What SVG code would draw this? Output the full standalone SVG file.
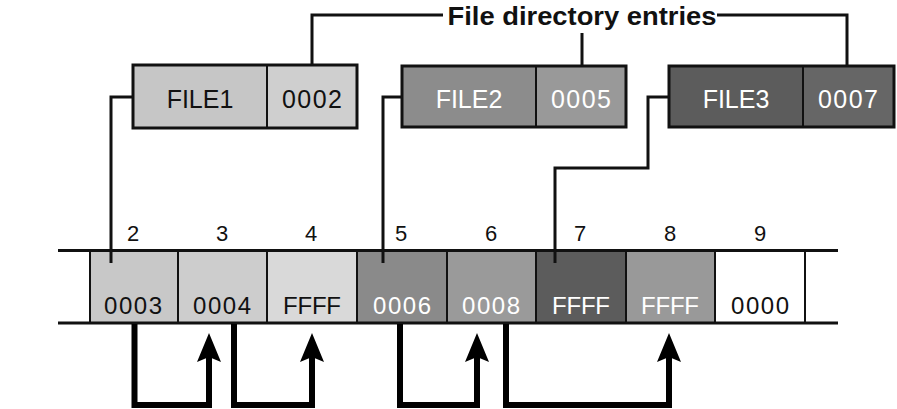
<svg xmlns="http://www.w3.org/2000/svg" width="897" height="409" viewBox="0 0 897 409">
<defs>
<style>
.t{font-family:"Liberation Sans",Arial,sans-serif;}
.title{font-weight:bold;font-size:26px;fill:#111;}
.ft{font-size:25px;text-anchor:middle;}
.ct{font-size:24px;text-anchor:middle;}
.num{font-size:22px;text-anchor:middle;fill:#111;}
.dk{fill:#111;}
.wh{fill:#fff;}
.box{stroke:#111;stroke-width:3;}
.div{stroke:#111;stroke-width:2;}
.thin{fill:none;stroke:#111;stroke-width:3;}
.thick{fill:none;stroke:#000;stroke-width:6;}
.head{fill:#000;}
</style>
</defs>
<rect width="897" height="409" fill="#fff"/>
<text class="t title" x="582" y="25" text-anchor="middle" textLength="269" lengthAdjust="spacingAndGlyphs">File directory entries</text>

<g id="file1">
<rect x="133" y="65" width="134" height="63" fill="#c6c6c6"/>
<rect x="267" y="65" width="90" height="63" fill="#cfcfcf"/>
<rect class="box" x="133" y="65" width="224" height="63" fill="none"/>
<line class="div" x1="267" y1="65" x2="267" y2="128"/>
<text class="t ft dk" x="200" y="108">FILE1</text>
<text class="t ft dk" x="312" y="108" textLength="60">0002</text>
</g>
<g id="file2">
<rect x="402" y="66" width="134" height="61" fill="#8c8c8c"/>
<rect x="536" y="66" width="90" height="61" fill="#999"/>
<rect class="box" x="402" y="66" width="224" height="61" fill="none"/>
<line class="div" x1="536" y1="66" x2="536" y2="127"/>
<text class="t ft wh" x="469" y="108">FILE2</text>
<text class="t ft wh" x="581" y="108" textLength="60">0005</text>
</g>
<g id="file3">
<rect x="669" y="66" width="134" height="61" fill="#5c5c5c"/>
<rect x="803" y="66" width="91" height="61" fill="#666"/>
<rect class="box" x="669" y="66" width="225" height="61" fill="none"/>
<line class="div" x1="803" y1="66" x2="803" y2="127"/>
<text class="t ft wh" x="736" y="108">FILE3</text>
<text class="t ft wh" x="848" y="108" textLength="60">0007</text>
</g>

<g id="fat">
<rect x="89" y="252" width="89" height="70" fill="#c8c8c8"/>
<rect x="178" y="252" width="89" height="70" fill="#cdcdcd"/>
<rect x="267" y="252" width="90" height="70" fill="#d9d9d9"/>
<rect x="357" y="252" width="90" height="70" fill="#8a8a8a"/>
<rect x="447" y="252" width="89" height="70" fill="#9a9a9a"/>
<rect x="536" y="252" width="90" height="70" fill="#5c5c5c"/>
<rect x="626" y="252" width="89" height="70" fill="#999"/>
<rect x="715" y="252" width="90" height="70" fill="#fff"/>
<line x1="58" y1="250.5" x2="838" y2="250.5" stroke="#111" stroke-width="3"/>
<line x1="58" y1="323" x2="838" y2="323" stroke="#111" stroke-width="3"/>
<g class="div">
<line x1="90" y1="250" x2="90" y2="323"/>
<line x1="178" y1="250" x2="178" y2="323"/>
<line x1="267" y1="250" x2="267" y2="323"/>
<line x1="357" y1="250" x2="357" y2="323"/>
<line x1="447" y1="250" x2="447" y2="323"/>
<line x1="536" y1="250" x2="536" y2="323"/>
<line x1="626" y1="250" x2="626" y2="323"/>
<line x1="715" y1="250" x2="715" y2="323"/>
<line x1="805" y1="250" x2="805" y2="323"/>
</g>
<text class="t num" x="133" y="241">2</text>
<text class="t num" x="222" y="241">3</text>
<text class="t num" x="311" y="241">4</text>
<text class="t num" x="401" y="241">5</text>
<text class="t num" x="491" y="241">6</text>
<text class="t num" x="580" y="241">7</text>
<text class="t num" x="670" y="241">8</text>
<text class="t num" x="760" y="241">9</text>
<text class="t ct dk" x="133" y="314" textLength="58">0003</text>
<text class="t ct dk" x="222" y="314" textLength="58">0004</text>
<text class="t ct dk" x="312" y="314" textLength="58">FFFF</text>
<text class="t ct wh" x="402" y="314" textLength="58">0006</text>
<text class="t ct wh" x="491" y="314" textLength="58">0008</text>
<text class="t ct wh" x="581" y="314" textLength="58">FFFF</text>
<text class="t ct wh" x="670" y="314" textLength="58">FFFF</text>
<text class="t ct dk" x="760" y="314" textLength="58">0000</text>
</g>

<g id="connectors">
<polyline class="thin" points="443,15 312,15 312,65"/>
<polyline class="thin" points="717,15 847,15 847,66"/>
<line class="thin" x1="582" y1="33" x2="582" y2="66"/>
<polyline class="thin" points="133,97 111,97 111,263"/>
<polyline class="thin" points="402,97 383,97 383,263"/>
<polyline class="thin" points="669,97 648,97 648,168 555,168 555,263"/>
<polyline class="thick" points="134.5,324 134.5,405 209,405 209,356"/>
<polygon class="head" points="209,333 221,362 209,357 197,362"/>
<polyline class="thick" points="234,324 234,405 312,405 312,356"/>
<polygon class="head" points="312,333 324,362 312,357 300,362"/>
<polyline class="thick" points="400,324 400,405 477,405 477,356"/>
<polygon class="head" points="477,333 489,362 477,357 465,362"/>
<polyline class="thick" points="506,324 506,405 669,405 669,356"/>
<polygon class="head" points="669,333 681,362 669,357 657,362"/>
</g>
</svg>
